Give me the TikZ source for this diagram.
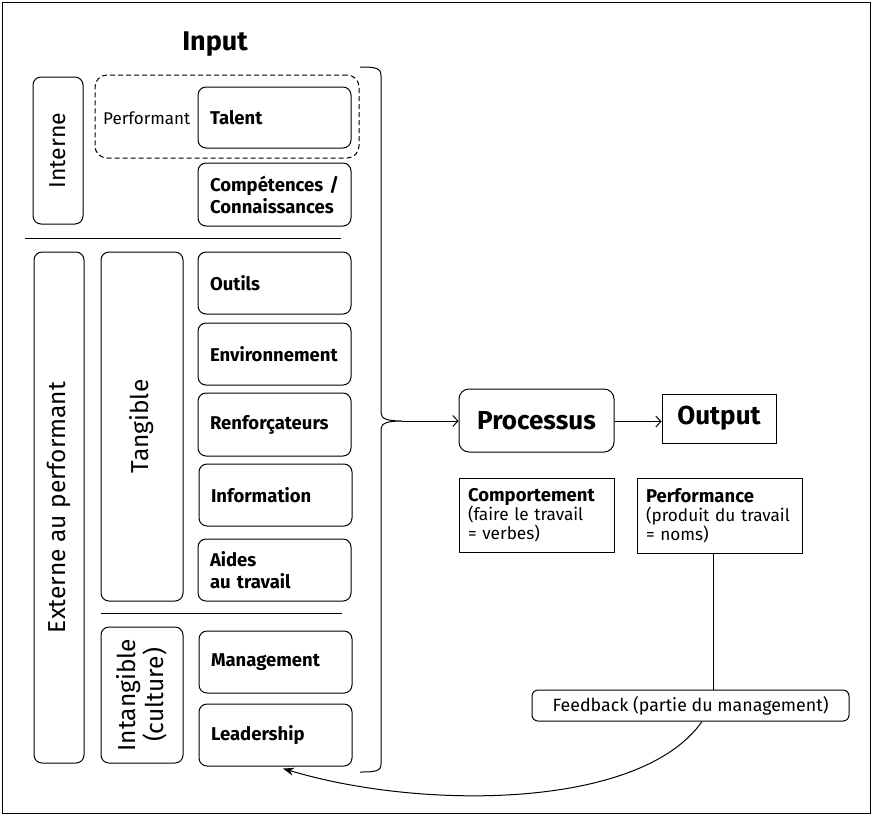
\documentclass[tikz,border=0pt]{standalone}
\usepackage{fontspec}
\setmainfont{Fira Sans}
\usetikzlibrary{arrows.meta}
\begin{document}
\begin{tikzpicture}[x=1pt,y=-1pt,
  box/.style={draw,line width=1pt,rounded corners=8pt,inner sep=0pt},
  lbox/.style={box,font=\fontsize{18.5}{22}\selectfont\bfseries,align=left,text width=129pt,
     minimum width=153pt,minimum height=62pt},
  vbox/.style={box,rotate=90,font=\fontsize{24.5}{28}\selectfont,align=center},
  plainbox/.style={draw,line width=1pt,inner sep=0pt},
  arr/.style={-{Straight Barb[length=5pt,width=11pt]},line width=1pt},
  sep/.style={line width=1pt}]
\useasboundingbox (0,0) rectangle (872,815);
\draw[line width=1pt] (2,2) rectangle (870,813);

\node[font=\fontsize{27}{30}\selectfont\bfseries] (input) at (215,44) {Input};

% Interne part
\node[vbox,minimum width=147pt,minimum height=50pt,font=\fontsize{23}{28}\selectfont] (interne) at (58,150.5) {Interne};
\node[draw,dash pattern=on 5pt off 3pt,line width=1pt,rounded corners=12pt,minimum width=264pt,minimum height=83pt] (perfzone) at (227,116.5) {};
\node[font=\fontsize{17}{20}\selectfont,anchor=west,inner sep=0pt] (performant) at (103,118) {Performant};
\node[lbox,minimum height=61pt] (talent) at (274.5,117.5) {Talent};
\node[lbox,minimum height=63pt] (comp) at (274.5,194.5) {\mbox{Compétences /}\\Connaissances};
\coordinate (s1a) at (25,238);
\coordinate (s1b) at (341,238);
\draw[sep] (s1a) -- (s1b);

% Externe part
\node[vbox,minimum width=511pt,minimum height=50pt] (externe) at (59,507.5) {Externe au performant};
\node[vbox,minimum width=349pt,minimum height=82pt] (tangible) at (142,426.5) {Tangible};
\node[lbox] (outils) at (274.5,283) {Outils};
\node[lbox] (env) at (274.5,354) {Environnement};
\node[lbox,minimum height=63pt] (renf) at (274.5,424.5) {Renforçateurs};
\node[lbox] (info) at (275.5,495) {Information};
\node[lbox] (aides) at (274.5,570) {Aides\\au travail};
\coordinate (s2a) at (101,613);
\coordinate (s2b) at (342,613);
\draw[sep] (s2a) -- (s2b);
\node[vbox,minimum width=136pt,minimum height=82pt] (intang) at (142,695) {Intangible\\(culture)};
\node[lbox] (mgmt) at (275.5,662) {Management};
\node[lbox] (lead) at (275.5,735) {Leadership};

% Brace
\coordinate (btop) at (360,67);
\coordinate (tip) at (402,421);
\coordinate (bbot) at (360,772);
\draw[line width=1pt] (btop) .. controls (376,67) and (381,68) .. (381,76) -- (381,413)
  .. controls (381,419) and (388,421) .. (tip)
  .. controls (388,421) and (381,423) .. (381,429) -- (381,764)
  .. controls (381,771) and (376,772) .. (bbot);

% Process
\node[box,rounded corners=10pt,minimum width=155pt,minimum height=63pt,font=\fontsize{26}{29}\selectfont\bfseries] (proc) at (536.5,420.5) {Processus};
\node[plainbox,minimum width=114pt,minimum height=49pt,font=\fontsize{26}{29}\selectfont\bfseries] (output) at (719,418.5) {Output};
\draw[arr] (tip) -- (tip -| proc.west);
\draw[arr] (proc.east |- 0,421.5) -- (output.west |- 0,421.5);

\node[plainbox,minimum width=155pt,minimum height=74pt,text width=137pt,align=left,
  font=\fontsize{17.2}{19}\selectfont] (comport) at (536.5,515)
  {{\fontsize{18.5}{19}\selectfont\bfseries Comportement}\\(faire le travail\\= verbes)};
\node[plainbox,minimum width=165pt,minimum height=75pt,text width=147pt,align=left,
  font=\fontsize{17.2}{19}\selectfont] (perf) at (719.5,515.5)
  {{\fontsize{18.5}{19}\selectfont\bfseries Performance}\\(produit du travail\\= noms)};

\node[box,rounded corners=6pt,minimum width=317pt,minimum height=31pt,font=\fontsize{17.8}{20}\selectfont] (feed) at (690.5,705.5) {Feedback (partie du management)};
\draw[line width=1pt] ([xshift=-6.5pt]perf.south) -- ([xshift=-6.5pt]perf.south |- feed.north);
\draw[line width=1pt,-{Stealth[length=11pt,width=8pt]}] ([xshift=11.5pt]feed.south)
  .. controls (640,810) and (420,810) .. ([xshift=7.5pt,yshift=-2pt]lead.south);
\end{tikzpicture}
\end{document}
